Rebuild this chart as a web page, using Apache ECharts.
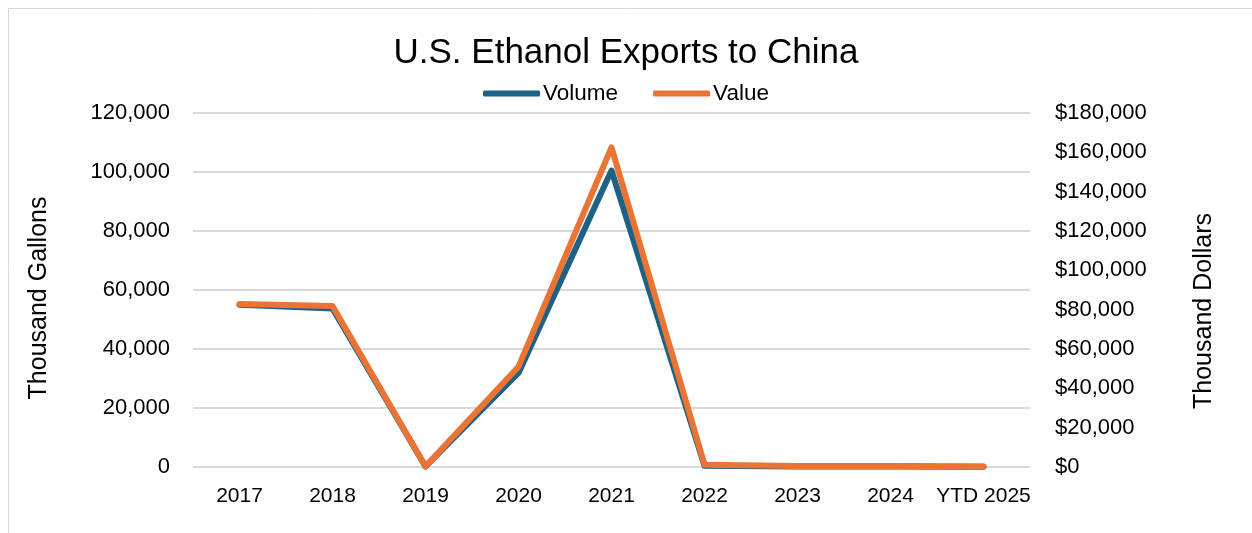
<!DOCTYPE html>
<html>
<head>
<meta charset="utf-8">
<script src="https://cdn.jsdelivr.net/npm/echarts@6/dist/echarts.min.js"></script>
<style>
  html, body { margin: 0; padding: 0; background: #ffffff; }
  #main { width: 1252px; height: 533px; }
</style>
</head>
<body>
<div id="main"></div>
<script>
// Chart data
var years = ['2017', '2018', '2019', '2020', '2021', '2022', '2023', '2024', 'YTD 2025'];
var volume = [55000, 53700, 200, 31900, 100500, 400, 150, 150, 100];   // thousand gallons
var value = [82900, 81900, 300, 51000, 162500, 1200, 500, 500, 300];    // thousand dollars
var leftTicks = { min: 0, max: 120000, interval: 20000 };
var rightTicks = { min: 0, max: 180000, interval: 20000 };

var font = '"Liberation Sans", Arial, sans-serif';

function fmt(v) {
    return v.toLocaleString('en-US');
}

var chart = echarts.init(document.getElementById('main'));

chart.setOption({
    backgroundColor: '#ffffff',
    animation: false,
    title: {
        text: 'U.S. Ethanol Exports to China',
        left: 'center',
        top: 31,
        textStyle: { fontFamily: font, fontSize: 35, fontWeight: 'normal', color: '#000000' }
    },
    legend: {
        top: 77,
        left: 'center',
        itemWidth: 57,
        itemHeight: 6,
        itemGap: 35,
        icon: 'roundRect',
        textStyle: { fontFamily: font, fontSize: 22.5, color: '#000000', padding: [0, 0, 0, -2] },
        data: ['Volume', 'Value']
    },
    grid: { left: 193, right: 222, top: 113, bottom: 66 },
    xAxis: {
        type: 'category',
        data: years,
        boundaryGap: true,
        axisLine: { show: false },
        axisTick: { show: false },
        axisLabel: { fontFamily: font, fontSize: 21, color: '#000000', margin: 19, interval: 0 }
    },
    yAxis: [
        {
            type: 'value',
            min: leftTicks.min,
            max: leftTicks.max,
            interval: leftTicks.interval,
            name: 'Thousand Gallons',
            nameLocation: 'middle',
            nameGap: 141,
            nameRotate: 90,
            nameTextStyle: { fontFamily: font, fontSize: 25, color: '#000000', padding: [0, 16, 0, 0] },
            axisLine: { show: false },
            axisTick: { show: false },
            axisLabel: { fontFamily: font, fontSize: 22, color: '#000000', margin: 23, formatter: fmt },
            splitLine: { lineStyle: { color: '#d9d9d9', width: 2 } }
        },
        {
            type: 'value',
            min: rightTicks.min,
            max: rightTicks.max,
            interval: rightTicks.interval,
            name: 'Thousand Dollars',
            nameLocation: 'middle',
            nameGap: 162,
            nameRotate: 90,
            nameTextStyle: { fontFamily: font, fontSize: 25, color: '#000000', padding: [0, 42, 0, 0] },
            axisLine: { show: false },
            axisTick: { show: false },
            axisLabel: { fontFamily: font, fontSize: 22, color: '#000000', margin: 25,
                formatter: function (v) { return '$' + fmt(v); } },
            splitLine: { show: false }
        }
    ],
    series: [
        {
            name: 'Volume',
            type: 'line',
            yAxisIndex: 0,
            data: volume,
            symbol: 'none',
            itemStyle: { color: '#1d6186' },
            lineStyle: { color: '#1d6186', width: 6, cap: 'round', join: 'round' }
        },
        {
            name: 'Value',
            type: 'line',
            yAxisIndex: 1,
            data: value,
            symbol: 'none',
            itemStyle: { color: '#ea7433' },
            lineStyle: { color: '#ea7433', width: 6, cap: 'round', join: 'round' }
        }
    ],
    graphic: [
        {
            type: 'rect',
            shape: { x: 8.5, y: 8.5, width: 1260, height: 540 },
            style: { fill: 'none', stroke: '#d9d9d9', lineWidth: 1 },
            silent: true
        }
    ]
});
</script>
</body>
</html>
